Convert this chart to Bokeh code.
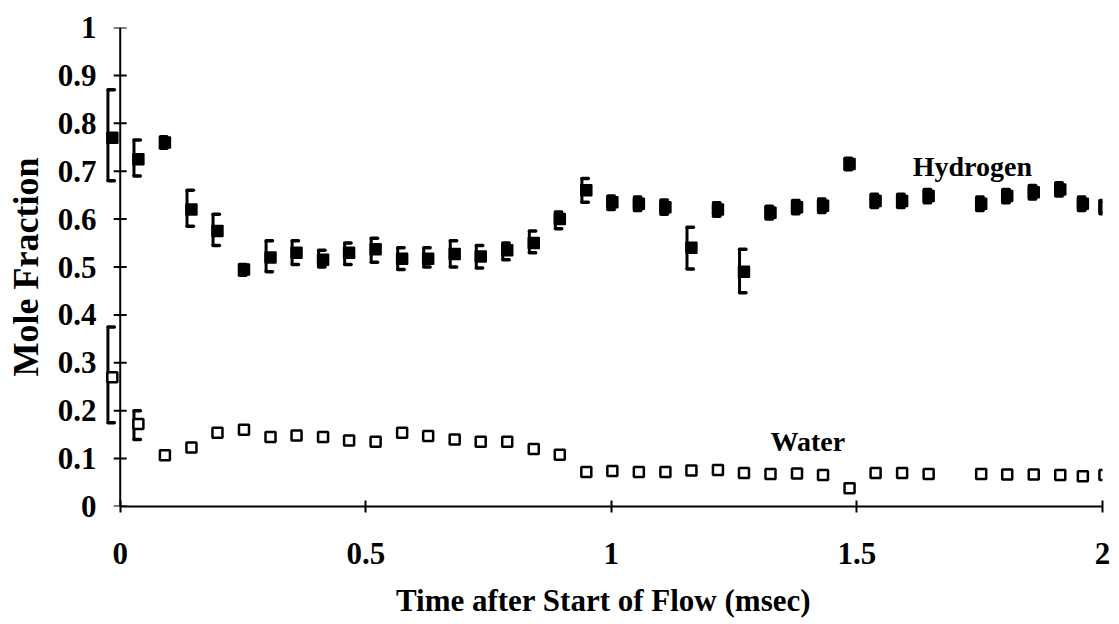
from bokeh.plotting import figure
from bokeh.models import Range1d, FixedTicker, ColumnDataSource, Label, Span
from bokeh.embed import file_html
from bokeh.resources import INLINE

# ---------------- data ----------------
time_ms = [-0.016, 0.037, 0.091, 0.145, 0.198, 0.252, 0.306, 0.359, 0.413, 0.466,
           0.520, 0.574, 0.627, 0.681, 0.734, 0.788, 0.842, 0.895, 0.949, 1.002,
           1.056, 1.110, 1.163, 1.217, 1.270, 1.324, 1.378, 1.431, 1.485, 1.538,
           1.592, 1.646, 1.753, 1.806, 1.860, 1.914, 1.960, 2.004]

hydrogen = [0.770, 0.725, 0.760, 0.620, 0.575, 0.495, 0.520, 0.530, 0.515, 0.530,
            0.537, 0.517, 0.517, 0.527, 0.522, 0.535, 0.550, 0.600, 0.660, 0.635,
            0.632, 0.625, 0.540, 0.620, 0.490, 0.613, 0.625, 0.628, 0.715, 0.638,
            0.638, 0.648, 0.632, 0.648, 0.656, 0.662, 0.632, 0.625]
hydrogen_low = [0.680, 0.690, 0.748, 0.585, 0.545, 0.483, 0.490, 0.505, 0.500, 0.505,
                0.510, 0.495, 0.500, 0.500, 0.498, 0.515, 0.530, 0.580, 0.635, 0.620,
                0.618, 0.610, 0.496, 0.606, 0.446, 0.600, 0.611, 0.614, 0.703, 0.624,
                0.624, 0.634, 0.618, 0.634, 0.642, 0.648, 0.618, 0.611]
hydrogen_high = [0.870, 0.765, 0.772, 0.660, 0.610, 0.505, 0.555, 0.555, 0.535, 0.550,
                 0.560, 0.540, 0.540, 0.555, 0.545, 0.550, 0.575, 0.615, 0.685, 0.648,
                 0.646, 0.640, 0.583, 0.634, 0.537, 0.627, 0.639, 0.642, 0.727, 0.652,
                 0.652, 0.662, 0.646, 0.662, 0.670, 0.676, 0.646, 0.639]

water = [0.270, 0.172, 0.107, 0.123, 0.154, 0.160, 0.145, 0.148, 0.145, 0.138,
         0.135, 0.154, 0.147, 0.140, 0.135, 0.135, 0.120, 0.108, 0.072, 0.074,
         0.072, 0.072, 0.075, 0.076, 0.070, 0.068, 0.069, 0.066, 0.038, 0.070,
         0.070, 0.068, 0.068, 0.067, 0.067, 0.066, 0.063, 0.066]
water_low = [0.175, 0.140] + water[2:]
water_high = [0.375, 0.200] + water[2:]

x_ticks = [0, 0.5, 1, 1.5, 2]
x_tick_labels = ["0", "0.5", "1", "1.5", "2"]
y_ticks = [0, 0.1, 0.2, 0.3, 0.4, 0.5, 0.6, 0.7, 0.8, 0.9, 1]
y_tick_labels = ["0", "0.1", "0.2", "0.3", "0.4", "0.5", "0.6", "0.7", "0.8", "0.9", "1"]

FONT = "Liberation Serif"

p = figure(width=1119, height=624, output_backend="svg", toolbar_location=None,
           x_range=Range1d(-0.032, 2.0), y_range=Range1d(0, 1),
           min_border_left=104, min_border_right=17, min_border_top=27,
           min_border_bottom=118)
p.outline_line_color = None
p.xgrid.visible = False
p.ygrid.visible = False
p.background_fill_color = "white"
p.border_fill_color = "white"

# ---- axes ----
for ax in (p.xaxis[0], p.yaxis[0]):
    ax.axis_line_width = 2
    ax.axis_line_color = "black"
    ax.major_tick_in = 6
    ax.major_tick_out = 6
    ax.major_tick_line_width = 2
    ax.major_tick_line_color = "black"
    ax.minor_tick_line_color = None
    ax.major_label_text_font = FONT
    ax.major_label_text_font_style = "bold"
    ax.major_label_text_font_size = "31px"
    ax.major_label_text_color = "black"
    ax.axis_label_text_font = FONT
    ax.axis_label_text_font_style = "bold"
    ax.axis_label_text_font_size = "31px"
    ax.axis_label_text_color = "black"

p.xaxis.ticker = FixedTicker(ticks=x_ticks)
p.xaxis.major_label_overrides = dict(zip(x_ticks, x_tick_labels))
p.xaxis.bounds = (0, 2)
p.xaxis.axis_label = "Time after Start of Flow (msec)"
p.xaxis.major_label_standoff = 30
p.xaxis.axis_label_standoff = 16

# the frame's own left axis carries only the labels; the visible axis line sits at t = 0
p.yaxis.ticker = FixedTicker(ticks=y_ticks)
p.yaxis.major_label_overrides = dict(zip(y_ticks, y_tick_labels))
p.yaxis.axis_label = "Mole Fraction"
p.yaxis.axis_label_text_font_size = "36px"
p.yaxis.axis_line_color = None
p.yaxis.major_tick_line_color = None
p.yaxis.major_tick_in = 0
p.yaxis.major_tick_out = 0
p.yaxis.major_label_standoff = 8
p.yaxis.axis_label_standoff = 9

p.add_layout(Span(location=0, dimension="height", line_color="black", line_width=2))
p.scatter([0] * len(y_ticks), y_ticks, marker="dash", size=13,
          line_color="black", line_width=2)

# ---- error bars (bracket style: bar on the left of the marker, caps to the right) ----
dx_bar = 0.009
dx_cap = 0.004

def bracket(xs, lo, hi):
    bx = [x - dx_bar for x in xs]
    cx = [x + dx_cap for x in xs]
    src = ColumnDataSource(dict(bx=bx, cx=cx, lo=lo, hi=hi))
    p.segment(x0="bx", y0="lo", x1="bx", y1="hi", source=src,
              line_color="black", line_width=3)
    p.segment(x0="bx", y0="hi", x1="cx", y1="hi", source=src,
              line_color="black", line_width=3.5, line_cap="round")
    p.segment(x0="bx", y0="lo", x1="cx", y1="lo", source=src,
              line_color="black", line_width=3.5, line_cap="round")

bracket(time_ms, hydrogen_low, hydrogen_high)

w_idx = [i for i in range(len(time_ms)) if water_high[i] - water_low[i] > 0]
bracket([time_ms[i] for i in w_idx], [water_low[i] for i in w_idx],
        [water_high[i] for i in w_idx])

p.scatter(time_ms, hydrogen, marker="square", size=11,
          fill_color="black", line_color="black", line_width=1.5)
p.scatter(time_ms, water, marker="square", size=10,
          fill_color="white", line_color="black", line_width=2.5)

# ---- series labels ----
p.add_layout(Label(x=1.735, y=0.71, text="Hydrogen", text_align="center",
                   text_baseline="middle", text_font=FONT, text_font_style="bold",
                   text_font_size="28px", text_color="black"))
p.add_layout(Label(x=1.40, y=0.135, text="Water", text_align="center",
                   text_baseline="middle", text_font=FONT, text_font_style="bold",
                   text_font_size="28px", text_color="black"))

open("out.html", "w").write(file_html(p, INLINE))
